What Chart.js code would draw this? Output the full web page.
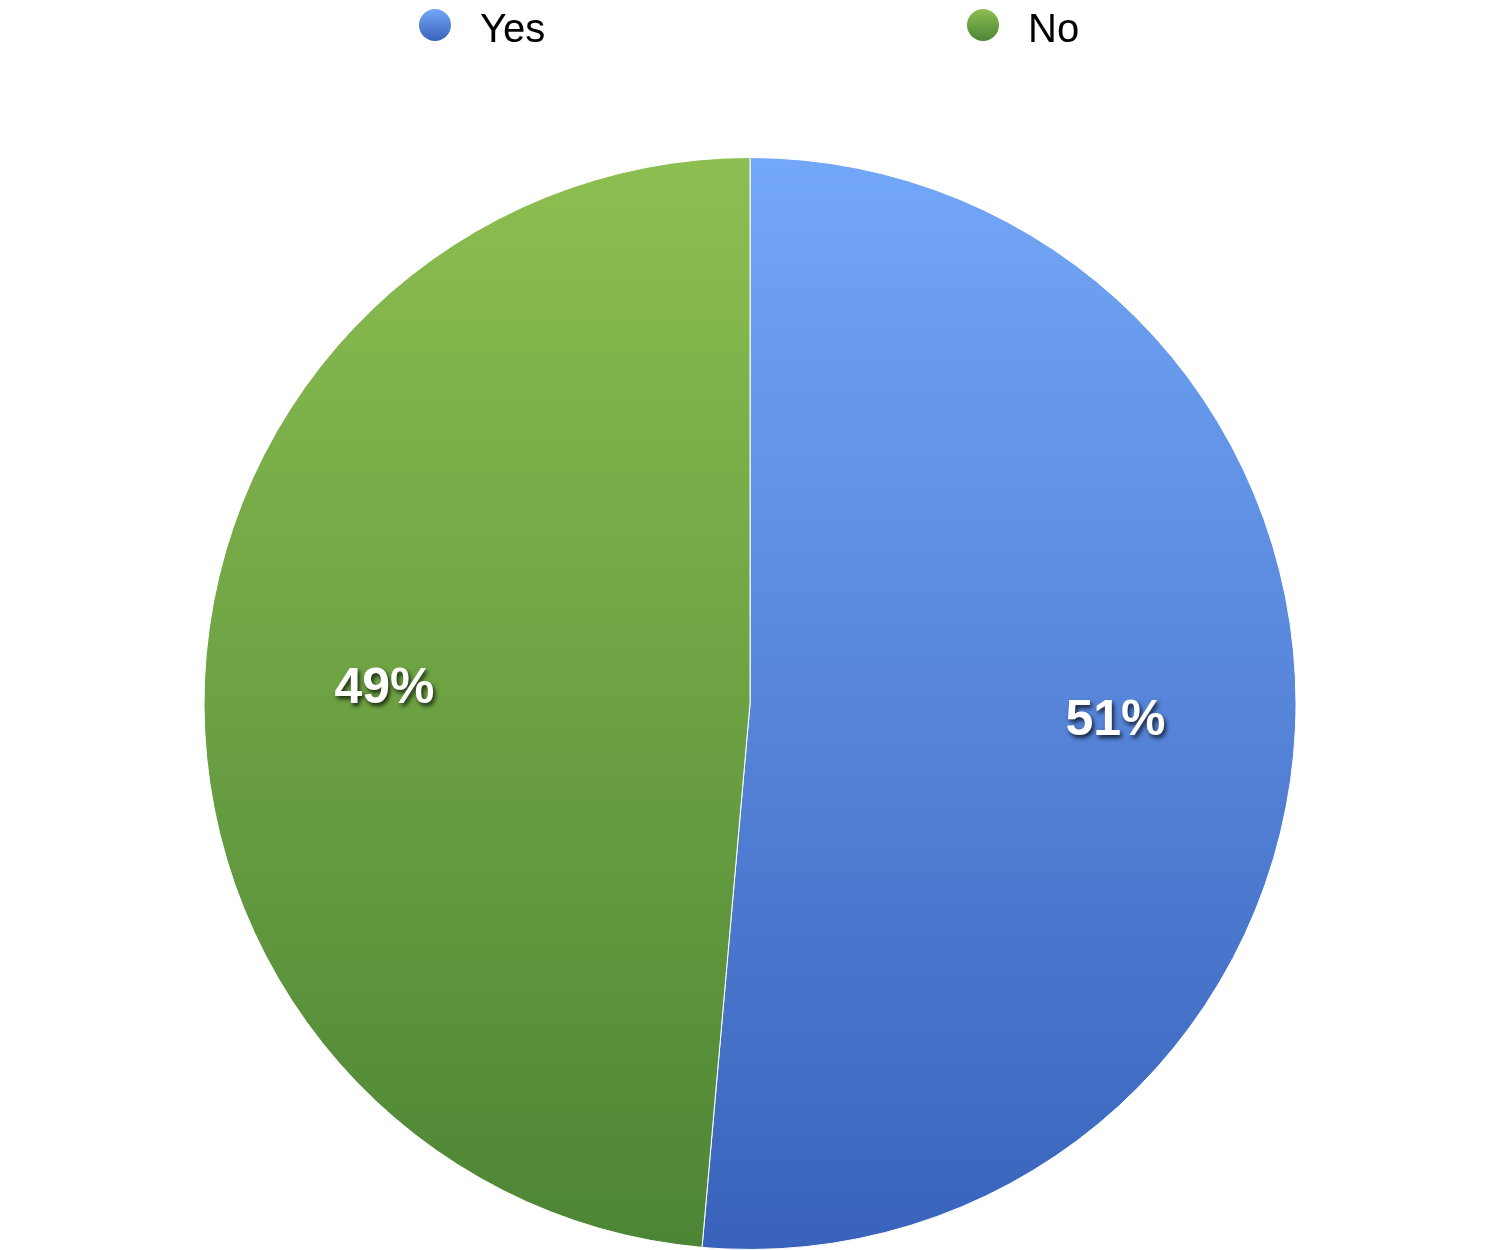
<!DOCTYPE html>
<html>
<head>
<meta charset="utf-8">
<script src="https://cdn.jsdelivr.net/npm/chart.js@4"></script>
<style>
html,body{margin:0;padding:0;background:#fff;}
#wrap{width:1500px;height:1250px;position:relative;}
</style>
</head>
<body>
<div id="wrap"><canvas id="c"></canvas></div>
<script>
const categories = ["Yes", "No"];
const values = [51.4, 48.6];
const percentLabels = ["51%", "49%"];
const gradTop = ["#73a7f7", "#8dbe51"];
const gradBottom = ["#3963bb", "#4c8535"];
const legendDot = ["#5a88df", "#6aa244"];

function grad(ctx, i) {
  const ch = ctx.chart;
  const a = ch.chartArea;
  if (!a) return gradBottom[i];
  const g = ch.ctx.createLinearGradient(0, a.top, 0, a.bottom);
  g.addColorStop(0, gradTop[i]);
  g.addColorStop(1, gradBottom[i]);
  return g;
}

const legendPlugin = {
  id: 'topLegend',
  afterDraw(chart) {
    const c = chart.ctx;
    const xs = [435, 983];
    c.save();
    c.font = '40px "Liberation Sans", Arial, sans-serif';
    c.textBaseline = 'alphabetic';
    categories.forEach((lab, i) => {
      const g = c.createLinearGradient(0, 9, 0, 41);
      g.addColorStop(0, gradTop[i]);
      g.addColorStop(1, gradBottom[i]);
      c.fillStyle = g;
      c.beginPath();
      c.arc(xs[i], 25, 16, 0, Math.PI * 2);
      c.fill();
      c.fillStyle = '#000';
      c.fillText(lab, xs[i] + 45, 42);
    });
    c.restore();
  }
};

const labelPlugin = {
  id: 'sliceLabels',
  afterDatasetsDraw(chart) {
    const c = chart.ctx;
    const meta = chart.getDatasetMeta(0);
    c.save();
    c.font = 'bold 50px "Liberation Sans", Arial, sans-serif';
    c.textAlign = 'center';
    c.textBaseline = 'middle';
    c.fillStyle = '#fff';
    c.shadowColor = 'rgba(0,0,0,0.75)';
    c.shadowOffsetX = 2;
    c.shadowOffsetY = 3;
    c.shadowBlur = 4;
    meta.data.forEach((arc, i) => {
      const p = arc.getProps(['x', 'y', 'startAngle', 'endAngle', 'outerRadius'], true);
      const mid = (p.startAngle + p.endAngle) / 2;
      const r = p.outerRadius * 0.67;
      c.fillText(percentLabels[i], p.x + Math.cos(mid) * r, p.y + Math.sin(mid) * r + 2);
    });
    c.restore();
  }
};

new Chart(document.getElementById('c'), {
  type: 'pie',
  data: {
    labels: categories,
    datasets: [{
      data: values,
      backgroundColor: (ctx) => grad(ctx, ctx.dataIndex),
      borderColor: '#ffffff',
      borderWidth: 1
    }]
  },
  options: {
    responsive: true,
    maintainAspectRatio: false,
    animation: false,
    layout: { padding: { top: 157, bottom: 0, left: 0, right: 0 } },
    plugins: {
      legend: { display: false },
      tooltip: { enabled: false }
    }
  },
  plugins: [legendPlugin, labelPlugin]
});
</script>
</body>
</html>
